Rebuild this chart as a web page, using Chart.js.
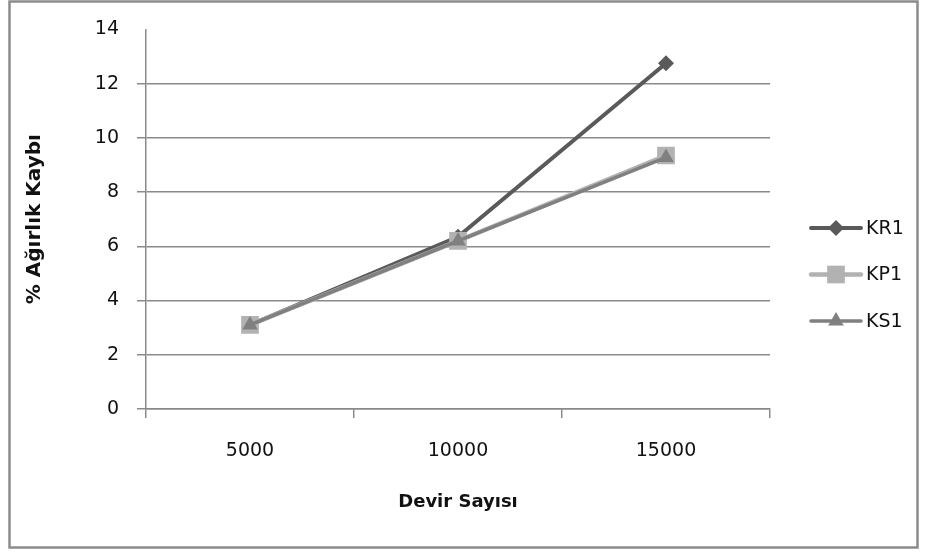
<!DOCTYPE html>
<html lang="tr">
<head>
<meta charset="UTF-8">
<title>% Ağırlık Kaybı</title>
<script src="https://cdn.jsdelivr.net/npm/chart.js"></script>
<style>
body {
	margin: 0;
	background: #fff;
}
#wrap {
	width: 925px;
	height: 552px;
}
</style>
</head>
<body>
<div id="wrap"><canvas id="chart" width="925" height="552"></canvas></div>
<script>
// veriler
const devirSayisi = ['5000', '10000', '15000'];
const kr1 = [3.1, 6.35, 12.75];
const kp1 = [3.1, 6.2, 9.35];
const ks1 = [3.1, 6.2, 9.28];
const yTicks = [0, 2, 4, 6, 8, 10, 12, 14];

const gridColor = '#8a8a8a';
const fontFam = "'DejaVu Sans', sans-serif";

// cerceve
const frame = {
	id: 'frame',
	afterDraw(chart) {
		const ctx = chart.ctx;
		ctx.save();
		ctx.strokeStyle = '#8c8c8c';
		ctx.lineWidth = 2.5;
		ctx.strokeRect(9.5, 1.5, 908, 546);
		ctx.restore();
	}
};

function marker(ctx, style, x, y, r) {
	ctx.beginPath();
	if (style === 'rectRot') {
		ctx.moveTo(x, y - r);
		ctx.lineTo(x + r, y);
		ctx.lineTo(x, y + r);
		ctx.lineTo(x - r, y);
	} else if (style === 'rect') {
		const s = r * Math.SQRT1_2;
		ctx.rect(x - s, y - s, 2 * s, 2 * s);
	} else {
		ctx.moveTo(x, y - r);
		ctx.lineTo(x + r * 0.866, y + r / 2);
		ctx.lineTo(x - r * 0.866, y + r / 2);
	}
	ctx.closePath();
	ctx.fill();
}

// sag taraftaki lejant
const sideLegend = {
	id: 'sideLegend',
	afterDraw(chart) {
		const ctx = chart.ctx;
		ctx.save();
		chart.data.datasets.forEach((ds, i) => {
			const y = 228 + i * 46.5;
			ctx.strokeStyle = ds.borderColor;
			ctx.fillStyle = ds.borderColor;
			ctx.lineWidth = ds.borderWidth;
			ctx.lineCap = 'round';
			ctx.beginPath();
			ctx.moveTo(811, y);
			ctx.lineTo(861, y);
			ctx.stroke();
			marker(ctx, ds.pointStyle, 836, y, ds.pointRadius);
			ctx.fillStyle = '#111';
			ctx.font = '19px ' + fontFam;
			ctx.textBaseline = 'middle';
			ctx.fillText(ds.label, 866, y + 1);
		});
		ctx.restore();
	}
};

const ctx = document.getElementById('chart').getContext('2d');
const myChart = new Chart(ctx, {
	type: 'line',
	data: {
		labels: devirSayisi,
		datasets: [{
			label: 'KR1',
			data: kr1,
			borderColor: '#5a5a5a',
			backgroundColor: '#5a5a5a',
			borderWidth: 4,
			pointStyle: 'rectRot',
			pointRadius: 8,
			pointBorderWidth: 0,
			order: 3
		}, {
			label: 'KP1',
			data: kp1,
			borderColor: '#b2b2b2',
			backgroundColor: '#b2b2b2',
			borderWidth: 4.5,
			pointStyle: 'rect',
			pointRadius: 12.5,
			pointBorderWidth: 0,
			order: 2
		}, {
			label: 'KS1',
			data: ks1,
			borderColor: '#808080',
			backgroundColor: '#808080',
			borderWidth: 3.5,
			pointStyle: 'triangle',
			pointRadius: 9,
			pointBorderWidth: 0,
			order: 1
		}]
	},
	options: {
		responsive: false,
		animation: false,
		layout: {
			padding: { left: 0, top: 29, right: 155, bottom: 0 }
		},
		plugins: {
			legend: { display: false },
			tooltip: { enabled: false }
		},
		scales: {
			x: {
				offset: true,
				afterFit(scale) { scale.height = 143; },
				grid: {
					offset: true,
					drawOnChartArea: false,
					color: gridColor,
					lineWidth: 1.5,
					tickLength: 9
				},
				border: { display: true, color: gridColor, width: 1.5 },
				ticks: {
					color: '#111',
					font: { family: fontFam, size: 19 },
					padding: 22
				},
				title: {
					display: true,
					text: 'Devir Sayısı',
					color: '#111',
					font: { family: fontFam, size: 18, weight: 'bold' },
					padding: { top: 0, bottom: 39 }
				}
			},
			y: {
				min: 0,
				max: 14,
				afterFit(scale) { scale.width = 146; },
				afterBuildTicks(scale) {
					scale.ticks = yTicks.map(v => ({ value: v }));
				},
				grid: {
					color: c => (c.tick && c.tick.value === 14) ? 'rgba(0,0,0,0)' : gridColor,
					lineWidth: 1.5,
					tickLength: 9
				},
				border: { display: true, color: gridColor, width: 1.5 },
				ticks: {
					color: '#111',
					font: { family: fontFam, size: 19 },
					padding: 18
				},
				title: {
					display: true,
					text: '% Ağırlık Kaybı',
					color: '#111',
					font: { family: fontFam, size: 20, weight: 'bold' },
					padding: { top: 23, bottom: 0 }
				}
			}
		}
	},
	plugins: [frame, sideLegend]
});
</script>
</body>
</html>
